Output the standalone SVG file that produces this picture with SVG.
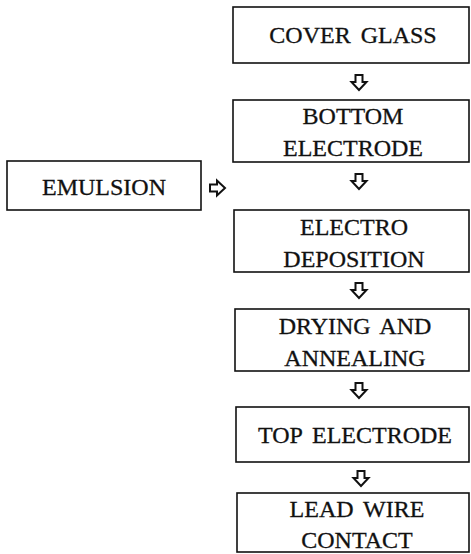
<svg xmlns="http://www.w3.org/2000/svg" width="471" height="554" viewBox="0 0 471 554">
<style>
.box{fill:#fff;stroke:#111;stroke-width:1.6}
.t{font-family:"Liberation Serif","Times New Roman",serif;font-size:24px;fill:#111;text-anchor:middle;stroke:#111;stroke-width:0.3;word-spacing:4px}
.arr{fill:#fff;stroke:#111;stroke-width:2;stroke-linejoin:miter}
</style>
<rect width="471" height="554" fill="#fff"/>
<g id="cover-glass"><rect class="box" x="233" y="7" width="236" height="56"/><text class="t" x="353" y="43">COVER GLASS</text></g>
<g id="bottom-electrode"><rect class="box" x="233" y="100" width="236" height="62"/><text class="t" x="353" y="124">BOTTOM</text><text class="t" x="353" y="156">ELECTRODE</text></g>
<g id="electro-deposition"><rect class="box" x="234" y="210" width="235" height="62"/><text class="t" x="354" y="235">ELECTRO</text><text class="t" x="354" y="267">DEPOSITION</text></g>
<g id="drying-annealing"><rect class="box" x="235" y="309" width="234" height="62"/><text class="t" x="355" y="334">DRYING AND</text><text class="t" x="355" y="366">ANNEALING</text></g>
<g id="top-electrode"><rect class="box" x="236" y="407" width="233" height="55"/><text class="t" x="355" y="443">TOP ELECTRODE</text></g>
<g id="lead-wire-contact"><rect class="box" x="237" y="493" width="232" height="59"/><text class="t" x="357" y="517">LEAD WIRE</text><text class="t" x="357" y="548">CONTACT</text></g>
<g id="emulsion"><rect class="box" x="7" y="161" width="194" height="49"/><text class="t" x="104" y="195">EMULSION</text></g>
<g id="connectors">
<path class="arr" d="M355.5,75 h7 v7 h4 l-7.5,8 l-7.5,-8 h4 z"/>
<path class="arr" d="M355.5,174 h7 v7 h4 l-7.5,8 l-7.5,-8 h4 z"/>
<path class="arr" d="M355.5,283 h7 v7 h4 l-7.5,8 l-7.5,-8 h4 z"/>
<path class="arr" d="M355.5,383 h7 v7 h4 l-7.5,8 l-7.5,-8 h4 z"/>
<path class="arr" d="M357.5,471 h7 v7 h4 l-7.5,8 l-7.5,-8 h4 z"/>
<path class="arr" d="M210,184.5 h7 v-4 l8,7.5 l-8,7.5 v-4 h-7 z"/>
</g>
</svg>
